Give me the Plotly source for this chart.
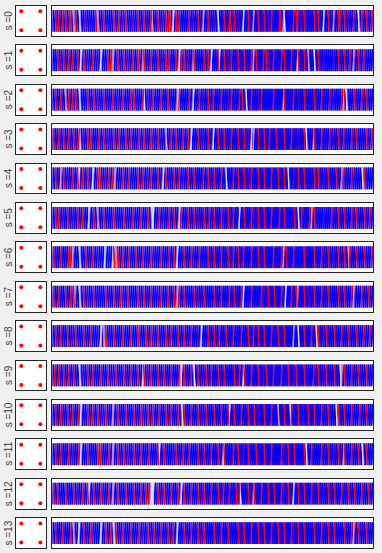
import plotly.graph_objects as go

N_STEPS = 320
ROW_LABELS = ["s =%d" % k for k in range(14)]

corner_x = [0, 1, 0, 1]
corner_y = [0, 0, 1, 1]

red_steps = [
    [3,6,10,13,17,18,23,43,51,61,66,73,85,91,98,105,113,116,117,123,126,136,145,155,171,176,177,181,195,205,211,218,226,227,240,243,244,251,261,265,275,285,286,291,300,308,313,318],
    [5,11,16,20,25,31,40,55,58,65,71,80,85,86,91,98,105,113,116,123,128,131,141,151,155,165,171,178,185,191,198,203,210,213,220,228,231,238,245,251,265,285,291,296,305,310],
    [3,8,16,20,23,35,41,51,60,70,78,81,90,100,108,115,126,136,146,155,160,168,178,186,189,198,208,220,231,240,251,261,268,276,288,291,301,308,313],
    [1,6,11,16,21,26,35,38,46,51,61,66,73,78,86,91,98,105,118,123,130,135,145,155,165,171,178,185,191,205,211,216,223,231,238,251,261,268,276,285,290,298,303,313,318],
    [3,11,20,25,30,35,45,46,47,56,60,70,76,85,90,98,105,113,121,126,135,141,150,155,161,168,180,185,191,198,205,211,218,225,231,245,251,261,265,275,283,290,298,311],
    [3,6,15,25,30,41,51,61,71,80,88,95,106,116,121,128,135,141,151,156,161,168,175,180,191,198,205,211,218,226,231,241,248,256,261,278,285,291,298,303,311,316],
    [1,8,16,18,33,40,61,65,70,76,83,90,98,108,116,121,131,138,146,155,161,168,175,180,185,190,198,205,211,220,228,233,240,251,261,268,275,285,291,296,303,311,318],
    [1,6,13,18,21,31,41,53,61,68,75,85,91,98,108,115,121,126,131,141,151,161,168,176,181,188,198,208,215,221,228,238,243,251,261,268,275,285,291,298,308,315],
    [3,8,15,23,31,38,53,61,70,78,85,86,93,98,105,113,118,125,131,138,155,161,166,173,180,188,195,200,205,211,218,225,231,251,258,265,273,281,288,295,303,310,316],
    [2,6,11,16,21,35,40,48,55,63,71,78,85,91,98,105,111,118,126,131,138,145,153,158,165,171,181,186,191,198,205,213,220,228,235,243,251,260,265,273,281,291,298,305,313],
    [3,8,15,20,26,35,40,45,53,65,73,81,88,95,100,106,113,118,125,131,138,145,153,161,168,175,181,188,195,201,211,218,231,238,245,255,261,268,275,285,291,298,306,313],
    [3,8,16,26,35,45,46,48,56,65,71,81,88,96,105,111,123,130,136,145,151,158,165,171,180,185,195,203,211,218,228,235,241,251,258,268,275,285,291,298,305,313],
    [1,5,13,21,30,35,41,48,56,65,73,81,88,93,96,105,111,118,125,131,138,145,151,158,165,170,176,183,186,195,201,208,215,221,228,235,245,251,258,265,275,281,288,295,301,308,315],
    [3,10,18,31,38,53,58,63,70,78,86,95,101,108,115,120,131,138,145,151,161,168,175,185,191,198,205,211,218,225,231,238,245,251,261,268,275,281,291,298,305,313],
]

pink_steps = [
    [21,45,99,150,200,230,280],
    [60,90,140,200,255,300],
    [13,124,230,290],
    [113,200,260],
    [8,62,288],
    [45,258],
    [20,63,230,295],
    [22,124,244,300],
    [51,240],
    [127,288],
    [60,225],
    [60,290],
    [60,200],
    [21,191,300],
]

light_steps = [
    [27,120,165,190,231,270,305],
    [28,48,126,158,166,244,261],
    [27,91,125,140,193,293],
    [27,138,160,198,253],
    [26,40,110,173,235,309],
    [36,99,100,126,186,245],
    [27,52,60,124],
    [27,190,232],
    [48,148,245,263],
    [27,90,128,141,190,287],
    [28,129,176,237,283],
    [28,106,170,253,309],
    [36,98,99,100,128,187,240],
    [26,48,61,124],
]

purple_steps = [
    [32,33,70,80,110,140,161,185,215,248,295],
    [8,35,45,75,110,135,175,215,270,280],
    [45,65,95,150,175,205,245,280,300],
    [30,55,100,150,195,245,280],
    [15,52,95,130,195,240,270,300],
    [10,20,60,110,145,170,200,270],
    [45,100,140,250,280],
    [35,70,105,145,210,255],
    [20,45,100,145,200,270],
    [30,60,95,150,210,240,270],
    [10,50,90,150,205,250],
    [20,75,120,190,230,280],
    [25,50,110,150,230,270],
    [40,90,150,190,240,280],
]

COLORS = {"B": "#0000ff", "P": "#5a00b4", "K": "#ff8a8a", "L": "#dcdcff", "R": "#ff0000"}

W, H = 382, 553
TOP0, PITCH, BOXH = 6.0, 39.4, 29.7
LX0, LX1 = 16.0, 45.7
RX0, RX1 = 52.3, 373.3

fig = go.Figure()
layout = dict(
    width=W, height=H, margin=dict(l=0, r=0, t=0, b=0),
    paper_bgcolor="#f0f0f0", plot_bgcolor="#ffffff", showlegend=False,
    annotations=[],
)

ys_line = [i % 2 for i in range(N_STEPS + 1)]

for k in range(14):
    top = TOP0 + PITCH * k
    y1 = 1 - top / H
    y0 = 1 - (top + BOXH) / H
    ia = 2 * k + 1
    ib = 2 * k + 2
    axcommon = dict(showgrid=False, zeroline=False, showticklabels=False, ticks="",
                    showline=True, mirror=True, linecolor="#262626", linewidth=1.2)
    layout["xaxis%d" % ia] = dict(domain=[LX0 / W, LX1 / W], range=[-0.28, 1.28], anchor="y%d" % ia, **axcommon)
    layout["yaxis%d" % ia] = dict(domain=[y0, y1], range=[-0.28, 1.28], anchor="x%d" % ia, **axcommon)
    layout["xaxis%d" % ib] = dict(domain=[RX0 / W, RX1 / W], range=[0, N_STEPS], anchor="y%d" % ib, **axcommon)
    layout["yaxis%d" % ib] = dict(domain=[y0, y1], range=[-0.184, 1.184], anchor="x%d" % ib, **axcommon)

    fig.add_trace(go.Scatter(x=corner_x, y=corner_y, mode="markers",
                             marker=dict(color="#ff0000", size=4),
                             xaxis="x%d" % ia, yaxis="y%d" % ia, hoverinfo="skip"))

    codes = ["B"] * N_STEPS
    for lst, c in ((purple_steps[k], "P"), (light_steps[k], "L"), (pink_steps[k], "K"), (red_steps[k], "R")):
        for s in lst:
            if 0 <= s < N_STEPS:
                codes[s] = c
    for c in ["B", "P", "L", "K", "R"]:
        xs, ys = [], []
        for i, cc in enumerate(codes):
            if cc == c:
                xs += [i, i + 1, None]
                ys += [ys_line[i], ys_line[i + 1], None]
        if xs:
            fig.add_trace(go.Scatter(x=xs, y=ys, mode="lines",
                                     line=dict(color=COLORS[c], width=1.5),
                                     xaxis="x%d" % ib, yaxis="y%d" % ib, hoverinfo="skip"))

    layout["annotations"].append(dict(
        text=ROW_LABELS[k], x=8.5 / W, y=(y0 + y1) / 2, xref="paper", yref="paper",
        showarrow=False, textangle=-90, xanchor="center", yanchor="middle",
        font=dict(family="Liberation Sans, Arial", size=10, color="#404040")))

fig.update_layout(**layout)
fig.write_html("out.html", config={"displayModeBar": False},
               post_script="document.body.style.margin='0';document.body.style.overflow='hidden';")
